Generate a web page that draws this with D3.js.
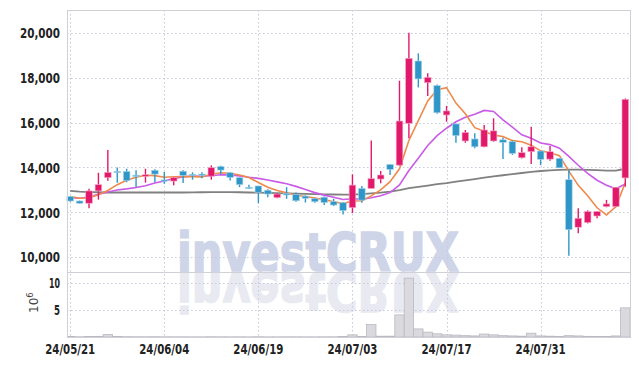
<!DOCTYPE html>
<meta charset="utf-8">
<html>
<head>
<style>
  body { margin: 0; background: #fff; }
  svg text { font-family: "DejaVu Sans Condensed", "DejaVu Sans", sans-serif; }
</style>
</head>
<body>
<svg id="chart" width="639" height="366"></svg>
</body>
</html>

<script src="https://d3js.org/d3.v7.min.js"></script>
<script>

// trading days 2024-05-21 .. 2024-08-13
var dates = ["24/05/21","24/05/22","24/05/23","24/05/24","24/05/27","24/05/28","24/05/29","24/05/30","24/05/31",
"24/06/03","24/06/04","24/06/05","24/06/07","24/06/10","24/06/11","24/06/12","24/06/13","24/06/14","24/06/17",
"24/06/18","24/06/19","24/06/20","24/06/21","24/06/24","24/06/25","24/06/26","24/06/27","24/06/28","24/07/01",
"24/07/02","24/07/03","24/07/04","24/07/05","24/07/08","24/07/09","24/07/10","24/07/11","24/07/12","24/07/15",
"24/07/16","24/07/17","24/07/18","24/07/19","24/07/22","24/07/23","24/07/24","24/07/25","24/07/26","24/07/29",
"24/07/30","24/07/31","24/08/01","24/08/02","24/08/05","24/08/06","24/08/07","24/08/08","24/08/09","24/08/12","24/08/13"];

var open  = [12700,12500,12400,12950,13540,13820,13820,13650,13600,13870,13440,13390,13830,13690,13700,13610,14040,13760,13540,13110,
13170,12980,12650,12840,12800,12720,12610,12670,12470,12420,12200,13060,13060,13480,14130,14100,15970,18750,17780,17650,
16340,15940,15180,15270,14920,15180,15230,15150,14430,14700,14730,14370,14400,13450,11330,11540,11830,12250,12250,13530];
var high  = [12720,12520,13050,13760,14780,13990,13940,13870,13940,13920,13790,13570,13870,13780,13780,14090,14070,13780,13560,13230,
13180,13020,12850,13120,12880,12750,12650,12700,12600,12450,13690,13170,15200,13840,14140,17870,20010,19090,18200,17700,
16740,15950,15670,15520,15890,16190,15330,15200,14900,15820,14740,14960,14420,13900,12180,12080,12050,12550,13130,17080];
var low   = [12470,12380,12180,12560,13400,13320,13340,13120,13320,13340,13270,13200,13300,13450,13520,13450,13690,13420,13120,13040,
12400,12670,12620,12600,12470,12430,12420,12320,12270,11900,11960,12420,13060,13290,13660,14080,15300,17570,17190,16400,
16040,15100,15100,14850,14900,15150,14370,14560,14400,14150,14100,14300,13980,10050,11060,11500,11730,12220,12220,13140];
var close = [12500,12400,12950,13230,13780,13780,13410,13600,13670,13700,13410,13540,13640,13640,13650,13990,13880,13550,13230,13080,
12890,12810,12810,12770,12510,12620,12470,12430,12320,12070,13210,12540,13500,13660,13910,16070,18870,17950,18020,16440,
16520,15420,15560,14920,15670,15630,15120,14630,14660,14920,14360,14700,13980,11220,11730,12030,12030,12370,13110,17040];

// volume, millions of shares
var volume = [0.08,0.05,0.1,0.12,0.45,0.08,0.06,0.05,0.05,0.06,0.04,0.04,0.04,0.03,0.03,0.05,0.04,0.03,0.04,0.03,
0.05,0.03,0.03,0.04,0.04,0.03,0.03,0.04,0.04,0.08,0.4,0.1,2.3,0.15,0.15,4.1,10.9,1.5,0.9,0.6,
0.4,0.35,0.25,0.2,0.55,0.4,0.25,0.2,0.15,0.7,0.2,0.15,0.1,0.25,0.2,0.12,0.1,0.1,0.2,5.4];

// moving averages (5 / 10 / long)
var ma5 = [12700,12620,12640,12780,12972,13228,13430,13560,13648,13632,13558,13584,13592,13586,13576,13692,13760,13742,13660,13546,
13326,13112,12964,12872,12758,12704,12636,12560,12470,12382,12500,12514,12728,12996,13364,13936,15202,16092,16964,17470,
17560,16870,16392,15772,15618,15440,15380,15194,15142,14992,14738,14654,14524,13836,13198,12732,12198,11876,12254,13316];
var ma10 = [12650,12620,12680,12800,12900,12990,13040,13100,13180,13302,13393,13507,13576,13617,13604,13625,13672,13667,13623,13561,
13509,13436,13353,13266,13152,13015,12874,12762,12671,12570,12602,12575,12644,12733,12873,13218,13858,14410,14980,15417,
15748,16036,16242,16368,16544,16500,16125,15793,15457,15305,15089,15017,14859,14489,14095,13735,13426,13200,13045,13257];
var maLong = [12950,12920,12900,12890,12880,12880,12880,12880,12880,12880,12880,12880,12880,12885,12890,12895,12900,12900,12890,12880,
12870,12860,12850,12840,12830,12820,12810,12800,12790,12780,12790,12810,12840,12870,12920,12990,13070,13130,13190,13250,
13300,13360,13420,13480,13540,13600,13650,13700,13750,13800,13840,13870,13890,13900,13900,13890,13880,13860,13860,13940];

var priceTicks = [10000,12000,14000,16000,18000,20000];
var volTicks = [5,10];
var dateTicks = ["24/05/21","24/06/04","24/06/19","24/07/03","24/07/17","24/07/31"];

var svg = d3.select("#chart");
var pLeft = 67, pRight = 630, pTop = 10, pSep = 272, pBottom = 337;

var x = d3.scaleBand().domain(dates).range([65.5, 630]);
var xc = function(d) { return x(d) + x.bandwidth() / 2; };
var y = d3.scaleLinear().domain([9330, 21027]).range([pSep, pTop]);
var yv = d3.scaleLinear().domain([0, 12.04]).range([pBottom, pSep]);

var red = "#e2196b", blue = "#2f96c8";

svg.append("defs").append("clipPath").attr("id", "clip")
  .append("rect").attr("x", pLeft).attr("y", pTop).attr("width", pRight - pLeft).attr("height", pBottom - pTop);

// watermark + reflection
var wm = svg.append("g").attr("clip-path", "url(#clip)");
function mark(g, fill) {
  return g.append("text")
      .attr("x", 177).attr("y", pSep - 1)
      .attr("textLength", 282).attr("lengthAdjust", "spacingAndGlyphs")
      .style("font-family", "'DejaVu Sans', sans-serif")
      .style("font-weight", "bold").style("font-size", "53px")
      .attr("fill", fill).attr("stroke", fill).attr("stroke-width", 1.6)
      .text("investCRUX");
}
mark(wm, "#cfd5e8");
mark(wm.append("g").attr("transform", "translate(0," + (2 * pSep) + ") scale(1,-1)"), "#e9eaf1");

// grid
var grid = svg.append("g").attr("stroke", "#c5cadd").attr("stroke-dasharray", "1.5,2.5").attr("stroke-width", 1);
grid.selectAll(".hp").data(priceTicks).enter().append("line")
    .attr("x1", pLeft).attr("x2", pRight)
    .attr("y1", function(d) { return Math.round(y(d)) + 0.5; })
    .attr("y2", function(d) { return Math.round(y(d)) + 0.5; });
grid.selectAll(".hv").data(volTicks).enter().append("line")
    .attr("x1", pLeft).attr("x2", pRight)
    .attr("y1", function(d) { return Math.round(yv(d)) + 0.5; })
    .attr("y2", function(d) { return Math.round(yv(d)) + 0.5; });
grid.selectAll(".vx").data(dateTicks).enter().append("line")
    .attr("x1", function(d) { return Math.round(xc(d)) + 0.5; })
    .attr("x2", function(d) { return Math.round(xc(d)) + 0.5; })
    .attr("y1", pTop).attr("y2", pBottom);

// volume bars
svg.append("g").attr("clip-path", "url(#clip)").selectAll("rect").data(dates).enter().append("rect")
    .attr("x", function(d) { return x(d); })
    .attr("width", x.bandwidth())
    .attr("y", function(d, i) { return yv(volume[i]); })
    .attr("height", function(d, i) { return pBottom - yv(volume[i]); })
    .attr("fill", "#d9d9de").attr("stroke", "#b9b9c2").attr("stroke-width", 0.8);

// moving averages
function maLine(arr, color, w) {
  svg.append("path")
      .datum(dates)
      .attr("fill", "none").attr("stroke", color).attr("stroke-width", w)
      .attr("d", d3.line().x(function(d) { return xc(d); }).y(function(d, i) { return y(arr[i]); }));
}
maLine(maLong, "#808080", 1.8);
maLine(ma10, "#c95be6", 1.6);
maLine(ma5, "#ef8a4c", 1.6);

// candles
var candle = svg.append("g").selectAll("g").data(dates).enter().append("g");
candle.append("line")
    .attr("x1", xc).attr("x2", xc)
    .attr("y1", function(d, i) { return y(high[i]); })
    .attr("y2", function(d, i) { return y(low[i]); })
    .attr("stroke", function(d, i) { return close[i] >= open[i] ? red : blue; })
    .attr("stroke-width", 1.4);
candle.append("rect")
    .attr("x", function(d) { return xc(d) - 3.3; })
    .attr("width", 6.6)
    .attr("y", function(d, i) { return y(Math.max(open[i], close[i])); })
    .attr("height", function(d, i) { return Math.max(1.2, Math.abs(y(open[i]) - y(close[i]))); })
    .attr("fill", function(d, i) { return close[i] >= open[i] ? red : blue; })
    .attr("stroke", function(d, i) { return close[i] >= open[i] ? "#f4a9c6" : "#a9d3ea"; })
    .attr("stroke-width", 0.6);

// frame
svg.append("rect").attr("x", pLeft + 0.5).attr("y", pTop + 0.5)
    .attr("width", pRight - pLeft).attr("height", pBottom - pTop)
    .attr("fill", "none").attr("stroke", "#cfd0d8");
svg.append("line").attr("x1", pLeft).attr("x2", pRight).attr("y1", pSep + 0.5).attr("y2", pSep + 0.5)
    .attr("stroke", "#cfd0d8");

// axis labels
var fmt = d3.format(",");
svg.append("g").selectAll("text").data(priceTicks).enter().append("text")
    .attr("x", 60).attr("y", function(d) { return y(d); }).attr("dy", "0.37em")
    .attr("text-anchor", "end").attr("fill", "#222").style("font-size", "14.5px").style("font-weight", "bold")
    .attr("textLength", 40).attr("lengthAdjust", "spacingAndGlyphs")
    .text(function(d) { return fmt(d); });
svg.append("g").selectAll("text").data(volTicks).enter().append("text")
    .attr("x", 60).attr("y", function(d) { return yv(d); }).attr("dy", "0.37em")
    .attr("text-anchor", "end").attr("fill", "#222").style("font-size", "14.5px").style("font-weight", "bold")
    .attr("textLength", function(d) { return d >= 10 ? 11 : 6; }).attr("lengthAdjust", "spacingAndGlyphs")
    .text(function(d) { return d; });
var unit = svg.append("text").attr("transform", "translate(38,313) rotate(-90)")
    .attr("fill", "#444").style("font-family", "'DejaVu Sans', sans-serif").style("font-size", "12px");
unit.append("tspan").text("10");
unit.append("tspan").attr("dy", -5).style("font-size", "8.5px").text("6");

svg.append("g").selectAll("text").data(dateTicks).enter().append("text")
    .attr("x", xc).attr("y", 354)
    .attr("text-anchor", "middle").attr("fill", "#222").style("font-size", "14.5px").style("font-weight", "bold")
    .attr("textLength", 50).attr("lengthAdjust", "spacingAndGlyphs")
    .text(function(d) { return d; });

</script>
